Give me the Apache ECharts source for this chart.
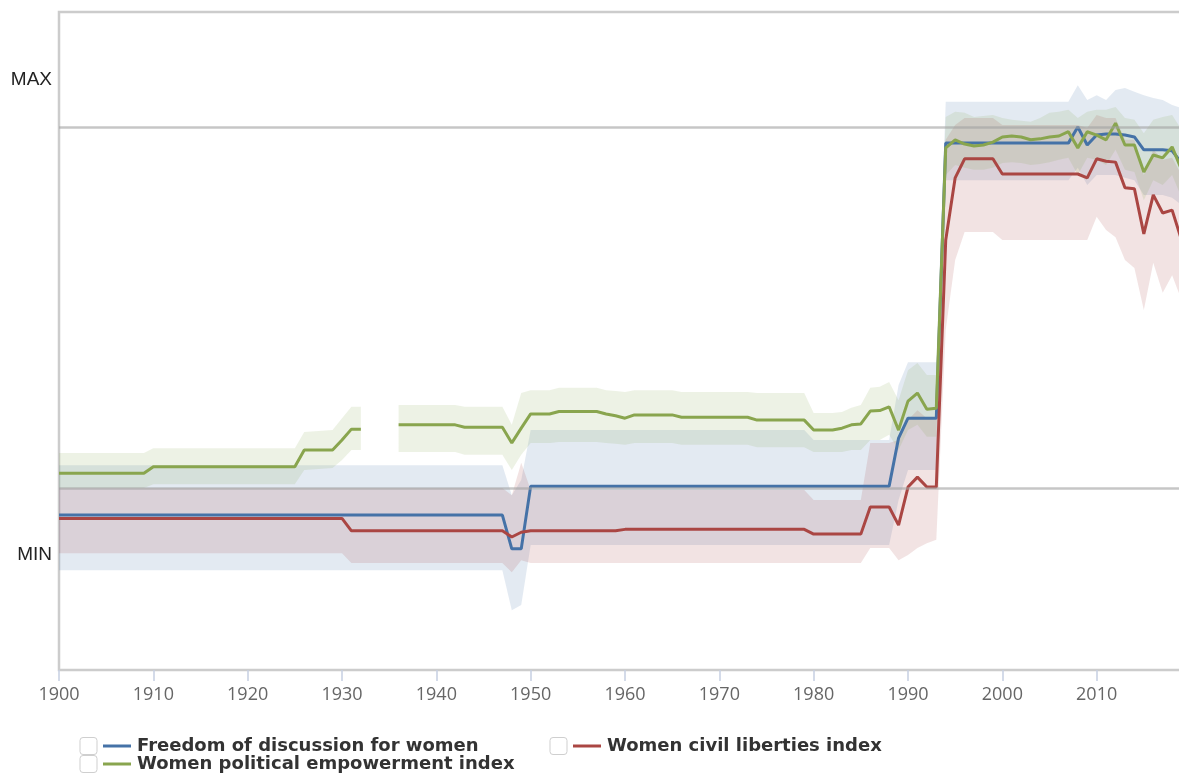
<!DOCTYPE html>
<html>
<head>
<meta charset="utf-8">
<script src="https://cdn.jsdelivr.net/npm/echarts@6/dist/echarts.min.js"></script>
<style>
  html, body { margin: 0; padding: 0; background: #fff; }
  #main { width: 1179px; height: 780px; }
</style>
</head>
<body>
<div id="main"></div>
<script>
// rows: [year, estimate, lower bound, upper bound]  (0 = MIN, 1 = MAX)
var discussion = [
  [1900, 0.084, -0.032, 0.189],
  [1947, 0.084, -0.032, 0.189],
  [1948, 0.013, -0.116, 0.126],
  [1949, 0.013, -0.105, 0.158],
  [1950, 0.145, 0.021, 0.263],
  [1979, 0.145, 0.021, 0.263],
  [1980, 0.145, 0.021, 0.242],
  [1988, 0.145, 0.021, 0.242],
  [1989, 0.246, 0.116, 0.358],
  [1990, 0.288, 0.179, 0.406],
  [1993, 0.288, 0.179, 0.406],
  [1994, 0.867, 0.789, 0.954],
  [2007, 0.867, 0.789, 0.954],
  [2008, 0.901, 0.815, 0.989],
  [2009, 0.863, 0.779, 0.958],
  [2010, 0.884, 0.800, 0.968],
  [2011, 0.886, 0.800, 0.958],
  [2012, 0.886, 0.800, 0.979],
  [2013, 0.884, 0.794, 0.983],
  [2014, 0.880, 0.789, 0.975],
  [2015, 0.853, 0.758, 0.968],
  [2016, 0.853, 0.758, 0.962],
  [2017, 0.853, 0.758, 0.958],
  [2018, 0.851, 0.752, 0.947],
  [2019, 0.825, 0.737, 0.941]
];

var civil = [
  [1900, 0.077, 0.004, 0.141],
  [1930, 0.077, 0.004, 0.141],
  [1931, 0.051, -0.017, 0.141],
  [1947, 0.051, -0.017, 0.141],
  [1948, 0.038, -0.036, 0.126],
  [1949, 0.048, -0.011, 0.194],
  [1950, 0.051, -0.017, 0.137],
  [1959, 0.051, -0.017, 0.137],
  [1960, 0.054, -0.017, 0.137],
  [1979, 0.054, -0.017, 0.137],
  [1980, 0.044, -0.017, 0.116],
  [1985, 0.044, -0.017, 0.116],
  [1986, 0.101, 0.015, 0.236],
  [1988, 0.101, 0.015, 0.236],
  [1989, 0.063, -0.011, 0.242],
  [1990, 0.143, 0.000, 0.284],
  [1991, 0.164, 0.015, 0.305],
  [1992, 0.143, 0.025, 0.288],
  [1993, 0.143, 0.032, 0.284],
  [1994, 0.663, 0.474, 0.874],
  [1995, 0.794, 0.621, 0.905],
  [1996, 0.834, 0.680, 0.920],
  [1999, 0.834, 0.680, 0.920],
  [2000, 0.802, 0.663, 0.905],
  [2008, 0.802, 0.663, 0.905],
  [2009, 0.794, 0.663, 0.899],
  [2010, 0.834, 0.712, 0.926],
  [2011, 0.829, 0.684, 0.920],
  [2012, 0.827, 0.669, 0.920],
  [2013, 0.773, 0.621, 0.874],
  [2014, 0.771, 0.604, 0.874],
  [2015, 0.676, 0.516, 0.800],
  [2016, 0.758, 0.615, 0.853],
  [2017, 0.720, 0.552, 0.832],
  [2018, 0.726, 0.589, 0.836],
  [2019, 0.663, 0.537, 0.800]
];

var political = [
  [1900, 0.172, 0.141, 0.215],
  [1909, 0.172, 0.141, 0.215],
  [1910, 0.186, 0.149, 0.225],
  [1925, 0.186, 0.149, 0.225],
  [1926, 0.221, 0.179, 0.259],
  [1929, 0.221, 0.183, 0.263],
  [1930, 0.242, 0.200, 0.288],
  [1931, 0.265, 0.221, 0.312],
  [1932, 0.265, 0.221, 0.312],
  [1933, null, null, null],
  [1936, 0.274, 0.217, 0.316],
  [1942, 0.274, 0.217, 0.316],
  [1943, 0.269, 0.211, 0.312],
  [1947, 0.269, 0.211, 0.312],
  [1948, 0.236, 0.179, 0.274],
  [1949, 0.267, 0.211, 0.341],
  [1950, 0.297, 0.236, 0.347],
  [1952, 0.297, 0.236, 0.347],
  [1953, 0.302, 0.238, 0.352],
  [1957, 0.302, 0.238, 0.352],
  [1958, 0.297, 0.236, 0.347],
  [1959, 0.293, 0.234, 0.345],
  [1960, 0.288, 0.232, 0.343],
  [1961, 0.295, 0.236, 0.347],
  [1965, 0.295, 0.236, 0.347],
  [1966, 0.290, 0.232, 0.343],
  [1973, 0.290, 0.232, 0.343],
  [1974, 0.284, 0.227, 0.341],
  [1979, 0.284, 0.227, 0.341],
  [1980, 0.263, 0.217, 0.299],
  [1982, 0.263, 0.217, 0.299],
  [1983, 0.267, 0.217, 0.301],
  [1984, 0.274, 0.221, 0.310],
  [1985, 0.276, 0.221, 0.316],
  [1986, 0.303, 0.242, 0.352],
  [1987, 0.304, 0.242, 0.354],
  [1988, 0.312, 0.253, 0.364],
  [1989, 0.263, 0.221, 0.326],
  [1990, 0.324, 0.263, 0.389],
  [1991, 0.341, 0.274, 0.404],
  [1992, 0.307, 0.249, 0.379],
  [1993, 0.309, 0.249, 0.379],
  [1994, 0.857, 0.800, 0.922],
  [1995, 0.874, 0.821, 0.933],
  [1996, 0.865, 0.815, 0.931],
  [1997, 0.861, 0.811, 0.922],
  [1998, 0.863, 0.811, 0.924],
  [1999, 0.869, 0.815, 0.926],
  [2000, 0.880, 0.825, 0.920],
  [2001, 0.882, 0.827, 0.916],
  [2002, 0.880, 0.825, 0.914],
  [2003, 0.874, 0.821, 0.912],
  [2004, 0.876, 0.823, 0.920],
  [2005, 0.880, 0.827, 0.931],
  [2006, 0.882, 0.832, 0.933],
  [2007, 0.891, 0.836, 0.937],
  [2008, 0.857, 0.800, 0.920],
  [2009, 0.891, 0.836, 0.933],
  [2010, 0.884, 0.832, 0.937],
  [2011, 0.874, 0.821, 0.937],
  [2012, 0.909, 0.853, 0.943],
  [2013, 0.863, 0.811, 0.920],
  [2014, 0.863, 0.806, 0.916],
  [2015, 0.806, 0.747, 0.888],
  [2016, 0.842, 0.789, 0.916],
  [2017, 0.836, 0.779, 0.922],
  [2018, 0.859, 0.800, 0.926],
  [2019, 0.811, 0.752, 0.895]
];

var names = ['Freedom of discussion for women', 'Women civil liberties index', 'Women political empowerment index'];
var colors = ['#4572A7', '#AA4643', '#89A54E'];
var bandColors = ['rgba(69,114,167,0.15)', 'rgba(170,70,67,0.15)', 'rgba(137,165,78,0.15)'];
var refLines = [0.895, 0.137];

var myChart = echarts.init(document.getElementById('main'));

// confidence band drawn as polygons, split where data is missing
function bandSeries(name, rows, fill) {
  return {
    type: 'custom',
    name: name,
    coordinateSystem: 'cartesian2d',
    silent: true,
    z: 1,
    data: [[rows[0][0], rows[0][1]]],
    renderItem: function (params, api) {
      var segs = [], seg = [];
      rows.forEach(function (r) {
        if (r[1] == null) {
          if (seg.length) segs.push(seg);
          seg = [];
        } else {
          seg.push(r);
        }
      });
      if (seg.length) segs.push(seg);
      return {
        type: 'group',
        children: segs.map(function (s) {
          var top = s.map(function (r) { return api.coord([r[0], r[3]]); });
          var bottom = s.slice().reverse().map(function (r) { return api.coord([r[0], r[2]]); });
          return { type: 'polygon', shape: { points: top.concat(bottom) }, style: { fill: fill } };
        })
      };
    }
  };
}

function lineSeries(name, rows, color) {
  return {
    type: 'line',
    name: name,
    showSymbol: false,
    connectNulls: false,
    silent: true,
    z: 3,
    lineStyle: { color: color, width: 3 },
    itemStyle: { color: color },
    data: rows.map(function (r) { return [r[0], r[1]]; })
  };
}

var allRows = [discussion, civil, political];
var series = [];
for (var i = 0; i < 3; i++) series.push(bandSeries(names[i], allRows[i], bandColors[i]));
series.push({
  type: 'line',
  data: [],
  silent: true,
  z: 2,
  markLine: {
    silent: true,
    symbol: 'none',
    label: { show: false },
    lineStyle: { color: 'rgba(160,160,160,0.6)', width: 2.5, type: 'solid' },
    data: refLines.map(function (v) { return { yAxis: v }; })
  }
});
for (var j = 0; j < 3; j++) series.push(lineSeries(names[j], allRows[j], colors[j]));

var rich = {
  box: { width: 17, height: 17, borderColor: '#cfcfcf', borderWidth: 1, borderRadius: 3 },
  gap: { width: 6 },
  l0: { width: 28, height: 3, backgroundColor: colors[0] },
  l1: { width: 28, height: 3, backgroundColor: colors[1] },
  l2: { width: 28, height: 3, backgroundColor: colors[2] },
  txt: { fontSize: 18, fontWeight: 'bold', color: '#333', fontFamily: 'DejaVu Sans', lineHeight: 20 }
};

function legendLabel(name) {
  return '{box|}{gap|}{l' + names.indexOf(name) + '|}{gap|}{txt|' + name + '}';
}

var legendBase = {
  orient: 'vertical',
  top: 737,
  itemGap: 0,
  itemWidth: 0,
  itemHeight: 0,
  padding: 0,
  selectedMode: false,
  formatter: legendLabel,
  textStyle: { rich: rich, padding: 0 }
};

var option = {
  animation: false,
  backgroundColor: '#fff',
  grid: {
    left: 59, width: 1132, top: 12, bottom: 110,
    outerBoundsMode: 'none',
    containLabel: false,
    show: true, borderColor: '#cccccc', borderWidth: 2.5, backgroundColor: 'transparent'
  },
  legend: [
    Object.assign({}, legendBase, { left: 75, data: [names[0], names[2]] }),
    Object.assign({}, legendBase, { left: 545, data: [names[1]] })
  ],
  xAxis: {
    type: 'value',
    min: 1900,
    max: 2020,
    interval: 10,
    axisLine: { show: false, onZero: false },
    axisTick: { show: true, length: 11, lineStyle: { color: '#c6d0e2', width: 1.5 } },
    splitLine: { show: false },
    axisLabel: {
      color: '#666', fontSize: 18, fontFamily: 'Open Sans', margin: 16,
      showMaxLabel: false,
      formatter: function (v) { return String(v); }
    }
  },
  yAxis: {
    type: 'value',
    min: -0.242,
    max: 1.143,
    axisLine: { show: false },
    axisTick: { show: false },
    splitLine: { show: false },
    axisLabel: {
      customValues: [0, 1],
      color: '#222', fontSize: 19, fontFamily: 'Liberation Sans', margin: 7,
      formatter: function (v) { return v > 0.5 ? 'MAX' : 'MIN'; }
    }
  },
  series: series
};

myChart.setOption(option);
</script>
</body>
</html>
